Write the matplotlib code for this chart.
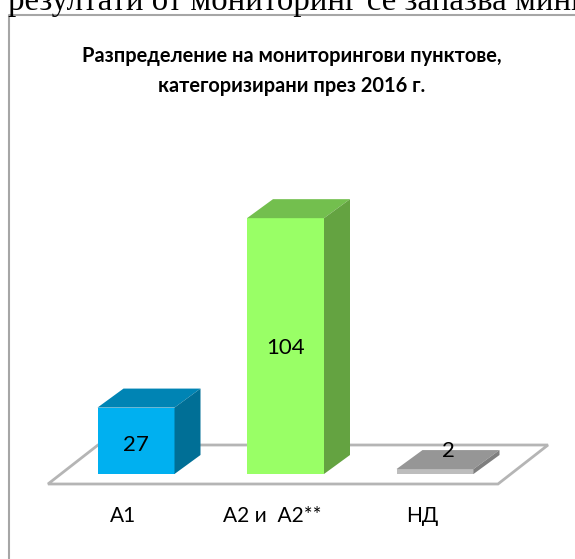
import matplotlib
matplotlib.use("Agg")
import matplotlib.pyplot as plt
from matplotlib.patches import Polygon

plt.rcParams['font.family'] = ['Lato', 'DejaVu Sans']

categories = ["А1", "А2 и  А2**", "НД"]
values = [27, 104, 2]
front_colors = ["#00B0F0", "#99FF66", "#BDBDBD"]
top_colors = ["#0084B4", "#73BF4E", "#969696"]
side_colors = ["#006F96", "#64A341", "#7F7F7F"]
title = "Разпределение на мониторингови пунктове,\nкатегоризирани през 2016 г."
page_text = "резултати от мониторинг се запазва мини"

W, H = 575, 559
x_step = 149.5    # px per category
y_step = 2.46     # px per value unit
x0, y0 = 136, 474  # px of category 0, value 0

fig = plt.figure(figsize=(W / 100, H / 100), dpi=100)
ax = fig.add_axes([0, 0, 1, 1])
ax.set_xlim(-x0 / x_step, (W - x0) / x_step)
ax.set_ylim(-(H - y0) / y_step, y0 / y_step)
ax.axis("off")


def dx(px):
    return px / x_step


def dy(px):
    return px / y_step


def to_x(px):
    return (px - x0) / x_step


def to_y(px):
    return (y0 - px) / y_step


# page frame
ax.plot([to_x(8.5), to_x(8.5), to_x(W)], [to_y(H), to_y(14.5), to_y(14.5)], color="#A6A6A6", lw=1.5)

# floor
floor = [(48, 484), (498, 484), (548, 445), (98, 445)]
ax.add_patch(Polygon([(to_x(a), to_y(b)) for a, b in floor], closed=True,
                     facecolor="white", edgecolor="#B5B5B5", lw=2, zorder=1))

# bars
bar_w = 77 / x_step
depth_x = dx(26)
depth_y = dy(19)
xs = list(range(len(categories)))
ax.bar(xs, values, width=bar_w, color=front_colors, zorder=3)
for i, v in enumerate(values):
    l, r = i - bar_w / 2, i + bar_w / 2
    ax.add_patch(Polygon([(l, v), (r, v), (r + depth_x, v + depth_y), (l + depth_x, v + depth_y)],
                         closed=True, facecolor=top_colors[i], edgecolor="none", zorder=3))
    ax.add_patch(Polygon([(r, 0), (r + depth_x, depth_y), (r + depth_x, v + depth_y), (r, v)],
                         closed=True, facecolor=side_colors[i], edgecolor="none", zorder=3))

# value labels
ax.text(0, to_y(445), str(values[0]), ha="center", va="center", fontsize=16, color="black", zorder=5)
ax.text(1, to_y(348), str(values[1]), ha="center", va="center", fontsize=16, color="black", zorder=5)
ax.text(2 + dx(13), to_y(451), str(values[2]), ha="center", va="center", fontsize=16, color="black", zorder=5)

# category labels
for i, c in enumerate(categories):
    ax.text(i - dx(13), to_y(516), c, ha="center", va="center", fontsize=15, color="black")

# title
ax.text(to_x(292), to_y(71), title, ha="center", va="center", fontsize=14.4, fontweight="bold",
        linespacing=1.63, color="black")

# cropped text from the page above
ax.text(to_x(8), to_y(10), page_text, ha="left", va="baseline", fontsize=23.7,
        family=["Liberation Serif"], color="black")

fig.savefig("out.png", dpi=100)
